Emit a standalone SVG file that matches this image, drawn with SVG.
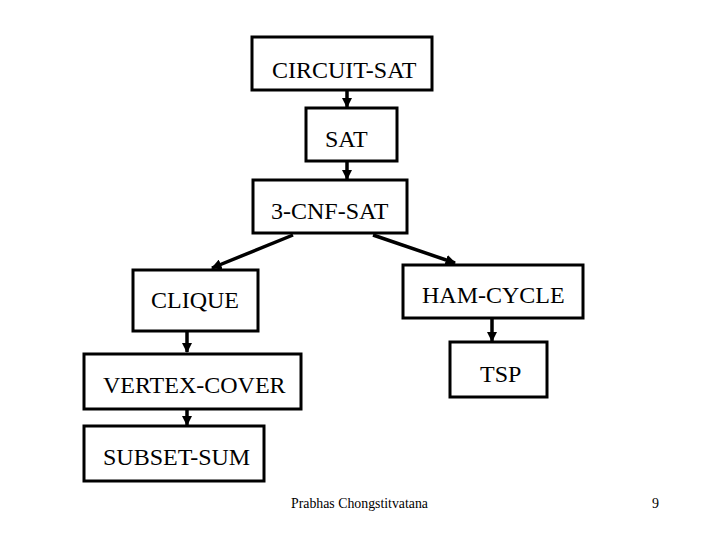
<svg xmlns="http://www.w3.org/2000/svg" width="720" height="540" viewBox="0 0 720 540">
<style>
.box{fill:#fff;stroke:#000;stroke-width:3}
.lbl{font-size:24px;fill:#000}
.ft{font-size:14px;fill:#000}
.con{stroke:#000;stroke-width:3.5;fill:none;marker-end:url(#ah)}
</style>
<defs>
<marker id="ah" viewBox="0 0 10 10" refX="9" refY="5" markerWidth="3" markerHeight="3" orient="auto" markerUnits="strokeWidth">
<path d="M0,0 L10,5 L0,10 Z" fill="#000"/>
</marker>
</defs>
<rect width="720" height="540" fill="#fff"/>
<g id="connectors">
<line class="con" x1="347" y1="91" x2="347" y2="107"/>
<line class="con" x1="347" y1="161" x2="347" y2="179"/>
<line class="con" x1="293" y1="235" x2="212" y2="268"/>
<line class="con" x1="373" y1="235" x2="455" y2="263"/>
<line class="con" x1="187" y1="332" x2="187" y2="352"/>
<line class="con" x1="187" y1="410" x2="187" y2="425"/>
<line class="con" x1="492" y1="319" x2="492" y2="341"/>
</g>
<g font-family="Liberation Serif, DejaVu Serif, serif">
<g id="circuit-sat"><rect class="box" x="252" y="37" width="180" height="53"/><text class="lbl" x="272" y="78">CIRCUIT-SAT</text></g>
<g id="sat"><rect class="box" x="306" y="108" width="91" height="53"/><text class="lbl" x="325" y="147">SAT</text></g>
<g id="cnf-sat"><rect class="box" x="253" y="180" width="154" height="53"/><text class="lbl" x="271" y="219">3-CNF-SAT</text></g>
<g id="clique"><rect class="box" x="133" y="270" width="125" height="61"/><text class="lbl" x="151" y="308">CLIQUE</text></g>
<g id="ham-cycle"><rect class="box" x="403" y="265" width="180" height="53"/><text class="lbl" x="422" y="303">HAM-CYCLE</text></g>
<g id="vertex-cover"><rect class="box" x="84" y="354" width="217" height="55"/><text class="lbl" x="103" y="393">VERTEX-COVER</text></g>
<g id="tsp"><rect class="box" x="450" y="342" width="97" height="55"/><text class="lbl" x="480" y="382">TSP</text></g>
<g id="subset-sum"><rect class="box" x="84" y="426" width="180" height="55"/><text class="lbl" x="103" y="465">SUBSET-SUM</text></g>
<text class="ft" x="291" y="508" textLength="137" lengthAdjust="spacingAndGlyphs">Prabhas Chongstitvatana</text>
<text class="ft" x="652" y="508">9</text>
</g>
</svg>
